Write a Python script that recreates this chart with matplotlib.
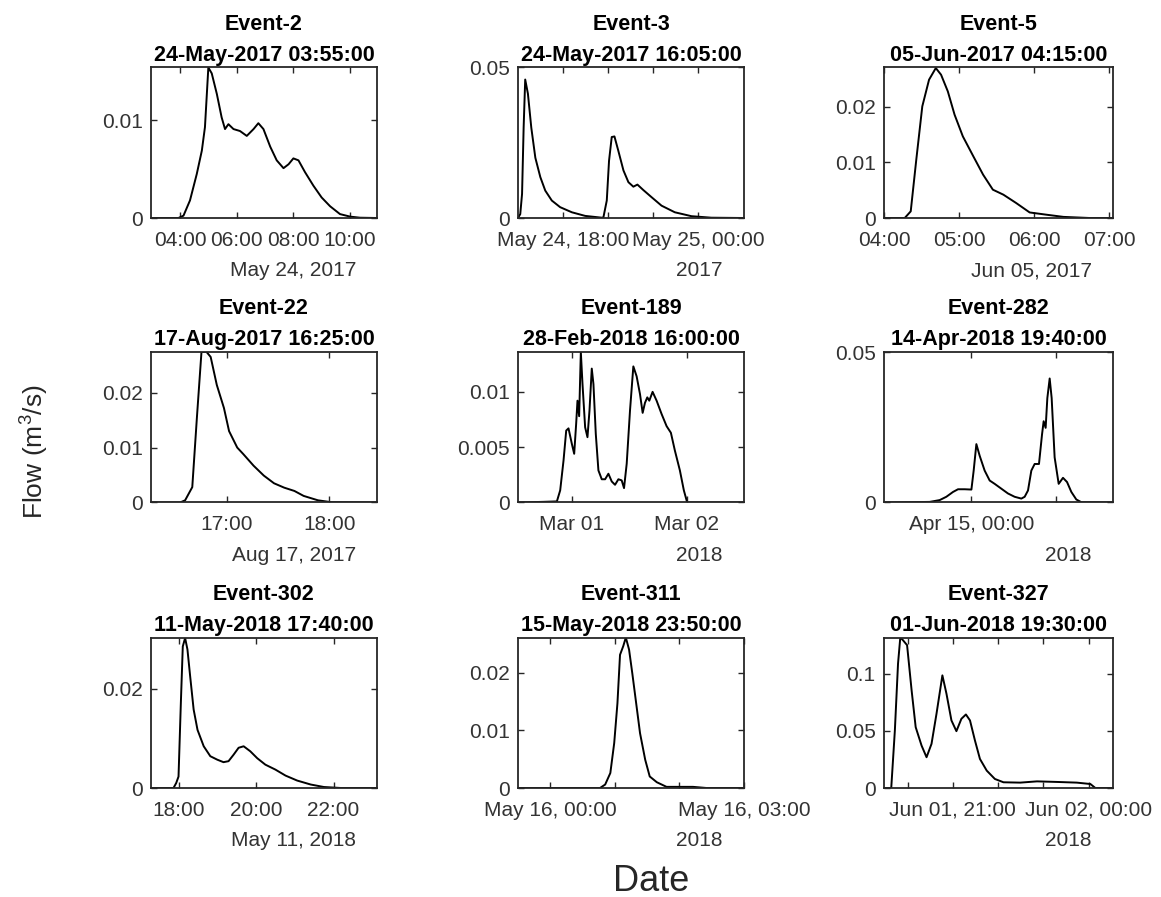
import matplotlib
matplotlib.use("Agg")
import matplotlib.pyplot as plt

plt.rcParams['font.family'] = ['Liberation Sans', 'DejaVu Sans']
plt.rcParams['mathtext.default'] = 'regular'

# ---------------- data (hours, m3/s) ----------------
events = ["Event-2", "Event-3", "Event-5", "Event-22", "Event-189", "Event-282",
          "Event-302", "Event-311", "Event-327"]
starts = ["24-May-2017 03:55:00", "24-May-2017 16:05:00", "05-Jun-2017 04:15:00",
          "17-Aug-2017 16:25:00", "28-Feb-2018 16:00:00", "14-Apr-2018 19:40:00",
          "11-May-2018 17:40:00", "15-May-2018 23:50:00", "01-Jun-2018 19:30:00"]
date_labels = ["May 24, 2017", "2017", "Jun 05, 2017", "Aug 17, 2017", "2018", "2018",
               "May 11, 2018", "2018", "2018"]

t1 = [2.97, 3.94, 4.12, 4.35, 4.59, 4.77, 4.88, 5.00, 5.12, 5.30, 5.47, 5.59, 5.71, 5.89,
      6.12, 6.36, 6.60, 6.77, 6.95, 7.19, 7.42, 7.66, 7.84, 8.01, 8.19, 8.42, 8.72, 9.01,
      9.31, 9.66, 10.02, 10.37, 10.97]
q1 = [0, 0, 0.00024, 0.0018, 0.0045, 0.0069, 0.0093, 0.0154, 0.0148, 0.0127, 0.0103,
      0.0091, 0.0096, 0.0091, 0.0089, 0.0084, 0.0091, 0.0097, 0.0091, 0.0073, 0.0059,
      0.0051, 0.0055, 0.0061, 0.0059, 0.0047, 0.0033, 0.0021, 0.0012, 0.0004, 0.00014,
      0.00003, 0]

t2 = [16.0, 16.10, 16.18, 16.25, 16.32, 16.44, 16.59, 16.77, 16.99, 17.21, 17.50, 17.87,
      18.39, 18.98, 19.72, 19.79, 19.94, 20.04, 20.16, 20.28, 20.45, 20.68, 20.90, 21.12,
      21.30, 21.56, 21.93, 22.37, 22.96, 23.70, 24.58, 26.03]
q2 = [0, 0.0013, 0.0080, 0.030, 0.046, 0.0413, 0.030, 0.020, 0.0136, 0.0091, 0.0058,
      0.0036, 0.0019, 0.0007, 0.0001, 0.0002, 0.0058, 0.019, 0.0269, 0.0271, 0.0224,
      0.0158, 0.0119, 0.0104, 0.0111, 0.0093, 0.0069, 0.0041, 0.0019, 0.0006, 0.0001, 0]

t3 = [4.0, 4.276, 4.356, 4.43, 4.51, 4.60, 4.69, 4.76, 4.85, 4.94, 5.05, 5.19, 5.32, 5.45,
      5.59, 5.76, 5.94, 6.16, 6.39, 6.74, 7.05]
q3 = [0, 0, 0.0012, 0.0105, 0.0201, 0.0249, 0.0270, 0.0258, 0.0228, 0.0186, 0.0147,
      0.0111, 0.0078, 0.0051, 0.0042, 0.0027, 0.0010, 0.0006, 0.0002, 0, 0]

t4 = [16.256, 16.54, 16.59, 16.66, 16.705, 16.75, 16.80, 16.84, 16.90, 16.97, 17.02, 17.10,
      17.16, 17.26, 17.36, 17.46, 17.56, 17.66, 17.75, 17.89, 18.02, 18.468]
q4 = [0, 0, 0.0004, 0.0028, 0.0154, 0.0274, 0.0274, 0.0265, 0.0214, 0.0172, 0.0130,
      0.0100, 0.0088, 0.0067, 0.0049, 0.0035, 0.0027, 0.0021, 0.0012, 0.0004, 0.00006, 0]

t5 = [-11.3, -5.94, -3.16, -2.47, -1.77, -1.21, -0.73, -0.03, 0.46, 0.87, 1.15, 1.50, 1.85,
      2.20, 2.75, 3.24, 3.66, 4.14, 4.49, 4.98, 5.53, 6.23, 6.93, 7.62, 8.32, 9.01, 9.71,
      10.40, 10.89, 11.45, 12.14, 12.84, 13.53, 14.23, 14.79, 15.27, 15.76, 16.18, 16.87,
      17.71, 18.75, 19.80, 20.70, 21.53, 22.58, 23.41, 24.11, 36.0]
q5 = [0, 0.00006, 0.0001, 0.0011, 0.0038, 0.0065, 0.0067, 0.0053, 0.0044, 0.0071, 0.0092,
      0.0078, 0.0136, 0.0107, 0.0068, 0.0059, 0.0083, 0.0121, 0.0107, 0.0062, 0.0029,
      0.0021, 0.0021, 0.0026, 0.0019, 0.0016, 0.0021, 0.0020, 0.0013, 0.0035, 0.0083,
      0.0123, 0.0114, 0.0098, 0.0081, 0.0090, 0.0095, 0.0092, 0.0100, 0.0092, 0.0080,
      0.0069, 0.0063, 0.0047, 0.0029, 0.0011, 0, 0]

t6 = [-12.34, -8.72, -5.89, -4.48, -3.54, -2.60, -1.89, -0.95, 0.0, 0.32, 0.70, 1.17, 1.87,
      2.58, 3.28, 4.22, 5.16, 6.10, 7.05, 7.52, 7.99, 8.46, 8.93, 9.54, 9.97, 10.20, 10.48,
      10.72, 11.05, 11.33, 11.75, 12.32, 12.93, 13.50, 14.11, 14.81, 15.52, 19.99]
q6 = [0, 0.0001, 0.0002, 0.0008, 0.0019, 0.0035, 0.0044, 0.0044, 0.0043, 0.0106, 0.0194,
      0.0155, 0.0106, 0.0073, 0.0062, 0.0046, 0.0030, 0.0019, 0.0013, 0.0019, 0.0040,
      0.0106, 0.0128, 0.0128, 0.0226, 0.0270, 0.0248, 0.0347, 0.0412, 0.0347, 0.0150,
      0.0062, 0.0082, 0.0068, 0.0035, 0.0010, 0.0001, 0]

t7 = [17.29, 17.87, 17.94, 18.0, 18.06, 18.11, 18.17, 18.23, 18.30, 18.39, 18.49, 18.65,
      18.82, 19.0, 19.16, 19.29, 19.42, 19.55, 19.68, 19.85, 20.03, 20.24, 20.50, 20.76,
      21.06, 21.41, 21.75, 22.19, 23.12]
q7 = [0, 0, 0.0010, 0.0023, 0.0171, 0.0285, 0.0302, 0.0279, 0.0225, 0.0158, 0.0117,
      0.0084, 0.0064, 0.0057, 0.0052, 0.0054, 0.0067, 0.0081, 0.0084, 0.0074, 0.0060,
      0.0047, 0.0037, 0.0025, 0.0015, 0.0007, 0.0002, 0, 0]

t8 = [-0.5, 0.77, 0.85, 0.93, 0.99, 1.04, 1.08, 1.13, 1.17, 1.22, 1.27, 1.33, 1.39, 1.47,
      1.54, 1.65, 1.80, 2.01, 2.21, 2.42, 3.0]
q8 = [0, 0, 0.0006, 0.0026, 0.0078, 0.0147, 0.0231, 0.0246, 0.0261, 0.0240, 0.0199,
      0.0147, 0.0095, 0.0049, 0.0020, 0.0010, 0.0002, 0.0002, 0.0002, 0, 0]

t9 = [19.48, 19.64, 19.72, 19.79, 19.84, 19.90, 19.99, 20.09, 20.18, 20.31, 20.42, 20.53,
      20.64, 20.77, 20.86, 20.97, 21.08, 21.19, 21.29, 21.38, 21.49, 21.60, 21.75, 21.93,
      22.12, 22.49, 22.86, 23.30, 23.74, 24.04, 24.15, 24.54]
q9 = [0, 0, 0.0503, 0.1088, 0.1316, 0.1292, 0.1249, 0.0854, 0.0532, 0.0371, 0.0269,
      0.0386, 0.0649, 0.0985, 0.0825, 0.0591, 0.0497, 0.0605, 0.0643, 0.0591, 0.0415,
      0.0254, 0.0152, 0.0079, 0.0050, 0.0047, 0.0058, 0.0053, 0.0047, 0.0035, 0, 0]

times = [t1, t2, t3, t4, t5, t6, t7, t8, t9]
flows = [q1, q2, q3, q4, q5, q6, q7, q8, q9]

xlims = [(2.97, 10.97), (16.0, 26.03), (4.0, 7.05), (16.256, 18.468), (-11.3, 36.0),
         (-12.34, 19.99), (17.29, 23.12), (-0.5, 3.0), (19.48, 24.54)]
ymaxs = [0.0154, 0.05, 0.0271, 0.0274, 0.0136, 0.05, 0.0303, 0.0261, 0.1316]

xticks = [[4, 6, 8, 10], [18, 20, 22, 24], [4, 5, 6, 7], [17, 18], [0, 24], [0, 12],
          [18, 20, 22], [0, 1, 2, 3], [20, 21, 22, 23, 24]]
xticklabels = [["04:00", "06:00", "08:00", "10:00"],
               ["May 24, 18:00", "", "", "May 25, 00:00"],
               ["04:00", "05:00", "06:00", "07:00"],
               ["17:00", "18:00"],
               ["Mar 01", "Mar 02"],
               ["Apr 15, 00:00", ""],
               ["18:00", "20:00", "22:00"],
               ["May 16, 00:00", "", "", "May 16, 03:00"],
               ["", "Jun 01, 21:00", "", "", "Jun 02, 00:00"]]
yticks = [[0, 0.01], [0, 0.05], [0, 0.01, 0.02], [0, 0.01, 0.02], [0, 0.005, 0.01],
          [0, 0.05], [0, 0.02], [0, 0.01, 0.02], [0, 0.05, 0.1]]
yticklabels = [["0", "0.01"], ["0", "0.05"], ["0", "0.01", "0.02"], ["0", "0.01", "0.02"],
               ["0", "0.005", "0.01"], ["0", "0.05"], ["0", "0.02"],
               ["0", "0.01", "0.02"], ["0", "0.05", "0.1"]]

# ---------------- layout ----------------
W, H = 1161, 897
fig = plt.figure(figsize=(W / 100, H / 100), dpi=100)
col_left = [151, 518, 884]
col_w = [226, 226, 229]
row_top = [67.5, 352, 637.5]
row_h = 150.5
dark = '#262626'
tick_col = '#333333'

for i in range(9):
    r, c = divmod(i, 3)
    rect = [col_left[c] / W, (H - row_top[r] - row_h) / H, col_w[c] / W, row_h / H]
    ax = fig.add_axes(rect)
    ax.plot(times[i], flows[i], color='black', lw=1.4, clip_on=True)
    ax.set_xlim(*xlims[i])
    ax.set_ylim(0, ymaxs[i])
    ax.set_xticks(xticks[i])
    ax.set_xticklabels(xticklabels[i])
    ax.set_yticks(yticks[i])
    ax.set_yticklabels(yticklabels[i])
    ax.tick_params(direction='in', top=True, right=True, length=4, width=1,
                   labelsize=15, colors=dark, labelcolor=tick_col, pad=6)
    ax.tick_params(axis='x', pad=9)
    for sp in ax.spines.values():
        sp.set_color(dark)
        sp.set_linewidth(1.3)
    ax.set_title(events[i] + "\n" + starts[i], fontsize=15.5, fontweight='bold',
                 color='black', pad=5, linespacing=1.6)
    ax.annotate(date_labels[i], xy=(0.907, 0), xycoords='axes fraction',
                xytext=(0, -42), textcoords='offset points', ha='right',
                va='baseline', fontsize=15, color=tick_col)

fig.text(35 / W, 1 - 452 / H, "Flow (m$^3$/s)", rotation=90, fontsize=19,
         ha='center', va='center', color=dark)
fig.text(651 / W, 1 - 881 / H, "Date", fontsize=26, ha='center', va='center',
         color=dark)

fig.savefig("out.png", dpi=100, facecolor='white')
